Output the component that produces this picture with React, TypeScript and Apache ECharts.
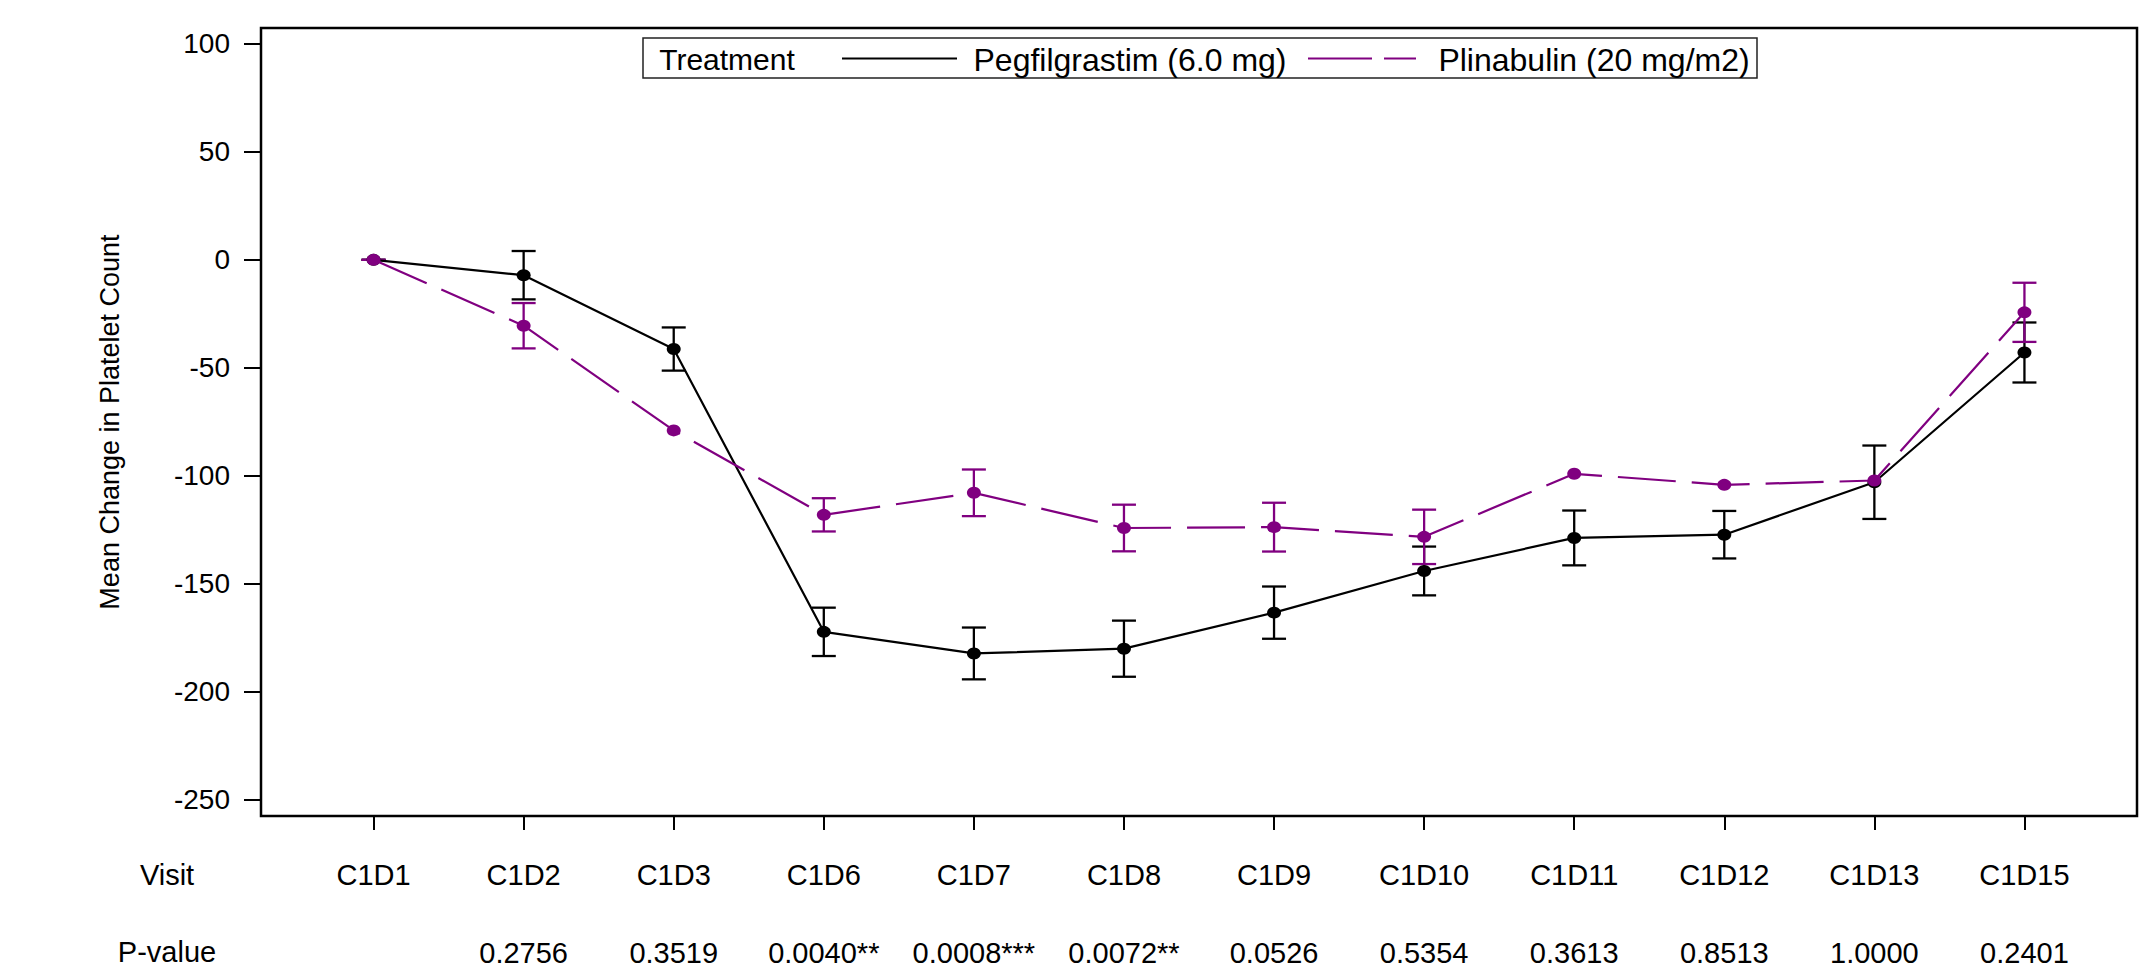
import React, { useEffect, useRef } from "react";
import * as echarts from "echarts";

// Visit schedule and between-arm p-values shown under the axis
const visits = ["C1D1", "C1D2", "C1D3", "C1D6", "C1D7", "C1D8", "C1D9", "C1D10", "C1D11", "C1D12", "C1D13", "C1D15"];
const pValues = ["", "0.2756", "0.3519", "0.0040**", "0.0008***", "0.0072**", "0.0526", "0.5354", "0.3613", "0.8513", "1.0000", "0.2401"];

// Mean change from baseline in platelet count, with standard error half-widths
const pegMean = [0, -7.1, -41.3, -172.3, -182.3, -180.1, -163.4, -144.1, -128.8, -127.3, -103.0, -42.9];
const pegSE = [0, 11.2, 10.0, 11.2, 12.0, 13.0, 12.1, 11.3, 12.7, 11.0, 17.0, 13.9];
const pliMean = [0, -30.5, -79.0, -118.1, -107.9, -124.2, -123.8, -128.3, -99.1, -104.2, -102.2, -24.3];
const pliSE: (number | null)[] = [0, 10.5, null, 7.7, 10.8, 10.8, 11.3, 12.6, null, null, null, 13.7];

const yTicks = [-250, -200, -150, -100, -50, 0, 50, 100];

const PEG_NAME = "Pegfilgrastim (6.0 mg)";
const PLI_NAME = "Plinabulin (20 mg/m2)";
const PEG_COLOR = "#000000";
const PLI_COLOR = "#800080";
const FONT = "'Liberation Sans', Arial, Helvetica, sans-serif";

function errorBars(name: string, mean: number[], se: (number | null)[], color: string, z: number) {
  const data = mean
    .map((m, i) => (se[i] == null ? null : [i, m - (se[i] as number), m + (se[i] as number)]))
    .filter((d) => d !== null);
  return {
    type: "custom",
    name,
    z,
    data,
    encode: { x: 0, y: [1, 2] },
    renderItem: (_params: any, api: any) => {
      const x = api.value(0);
      const lo = api.coord([x, api.value(1)]);
      const hi = api.coord([x, api.value(2)]);
      const half = 12;
      const style = { stroke: color, lineWidth: 2.3 };
      return {
        type: "group",
        children: [
          { type: "line", shape: { x1: lo[0], y1: lo[1], x2: hi[0], y2: hi[1] }, style },
          { type: "line", shape: { x1: lo[0] - half, y1: lo[1], x2: lo[0] + half, y2: lo[1] }, style },
          { type: "line", shape: { x1: hi[0] - half, y1: hi[1], x2: hi[0] + half, y2: hi[1] }, style },
        ],
      };
    },
  };
}

function meanLine(name: string, mean: number[], color: string, dash: any, z: number) {
  return {
    type: "line",
    name,
    z,
    data: mean.map((v, i) => [i, v]),
    symbol: "circle",
    symbolSize: [14, 12],
    showSymbol: true,
    itemStyle: { color },
    lineStyle: { color, width: 2.2, type: dash },
    emphasis: { disabled: true },
  };
}

export default function App() {
  const ref = useRef<HTMLDivElement>(null);

  useEffect(() => {
    if (!ref.current) return;
    const chart = echarts.init(ref.current, null, { renderer: "svg" });
    const idx = visits.map((_, i) => i);

    const option: any = {
      animation: false,
      backgroundColor: "#ffffff",
      textStyle: { fontFamily: FONT, color: "#000" },
      grid: {
        left: 261,
        top: 28,
        width: 1876,
        height: 788,
        show: true,
        borderColor: "#000",
        borderWidth: 2.5,
        backgroundColor: "transparent",
      },
      xAxis: [
        {
          type: "value",
          min: -0.75,
          max: 11.75,
          position: "bottom",
          axisLine: { show: false, onZero: false },
          splitLine: { show: false },
          axisTick: {
            show: true,
            length: 14,
            customValues: idx,
            lineStyle: { color: "#000", width: 2 },
          },
          axisLabel: {
            customValues: idx,
            formatter: (v: number) => visits[Math.round(v)] ?? "",
            margin: 44,
            fontSize: 29,
            color: "#000",
            fontFamily: FONT,
          },
        },
        {
          type: "value",
          min: -0.75,
          max: 11.75,
          position: "bottom",
          axisLine: { show: false, onZero: false },
          splitLine: { show: false },
          axisTick: { show: false },
          axisLabel: {
            customValues: idx,
            formatter: (v: number) => pValues[Math.round(v)] ?? "",
            margin: 122,
            fontSize: 29,
            color: "#000",
            fontFamily: FONT,
          },
        },
      ],
      yAxis: {
        type: "value",
        min: -257.6,
        max: 107.4,
        position: "left",
        axisLine: { show: false, onZero: false },
        splitLine: { show: false },
        axisTick: {
          show: true,
          length: 17,
          customValues: yTicks,
          lineStyle: { color: "#000", width: 2 },
        },
        axisLabel: {
          customValues: yTicks,
          margin: 31,
          fontSize: 28,
          color: "#000",
          fontFamily: FONT,
        },
        name: "Mean Change in Platelet Count",
        nameLocation: "middle",
        nameRotate: 90,
        nameGap: 138,
        nameTextStyle: { fontSize: 27, color: "#000", fontFamily: FONT },
      },
      series: [
        errorBars(PEG_NAME, pegMean, pegSE, PEG_COLOR, 2),
        errorBars(PLI_NAME, pliMean, pliSE, PLI_COLOR, 3),
        meanLine(PEG_NAME, pegMean, PEG_COLOR, "solid", 4),
        meanLine(PLI_NAME, pliMean, PLI_COLOR, [58, 16], 5),
      ],
      graphic: [
        // legend frame
        {
          type: "rect",
          shape: { x: 643, y: 38, width: 1114, height: 40 },
          style: { fill: "#fff", stroke: "#222", lineWidth: 1.5 },
          z: 10,
        },
        {
          type: "text",
          x: 727,
          y: 59.5,
          style: { text: "Treatment", fontSize: 30, fontFamily: FONT, fill: "#000", align: "center", verticalAlign: "middle" },
          z: 11,
        },
        {
          type: "line",
          shape: { x1: 842, y1: 58.5, x2: 957, y2: 58.5 },
          style: { stroke: PEG_COLOR, lineWidth: 2.2 },
          z: 11,
        },
        {
          type: "text",
          x: 1130,
          y: 59.5,
          style: { text: PEG_NAME, fontSize: 32, fontFamily: FONT, fill: "#000", align: "center", verticalAlign: "middle" },
          z: 11,
        },
        {
          type: "line",
          shape: { x1: 1308, y1: 58.5, x2: 1416, y2: 58.5 },
          style: { stroke: PLI_COLOR, lineWidth: 2.2, lineDash: [64, 12] },
          z: 11,
        },
        {
          type: "text",
          x: 1594,
          y: 59.5,
          style: { text: PLI_NAME, fontSize: 32, fontFamily: FONT, fill: "#000", align: "center", verticalAlign: "middle" },
          z: 11,
        },
        // row headers of the axis table
        {
          type: "text",
          x: 167,
          y: 875,
          style: { text: "Visit", fontSize: 29, fontFamily: FONT, fill: "#000", align: "center", verticalAlign: "middle" },
        },
        {
          type: "text",
          x: 167,
          y: 952,
          style: { text: "P-value", fontSize: 29, fontFamily: FONT, fill: "#000", align: "center", verticalAlign: "middle" },
        },
      ],
    };

    chart.setOption(option);
    return () => chart.dispose();
  }, []);

  return (
    <div
      ref={ref}
      style={{ position: "fixed", left: 0, top: 0, width: 2149, height: 977, background: "#fff" }}
    />
  );
}
